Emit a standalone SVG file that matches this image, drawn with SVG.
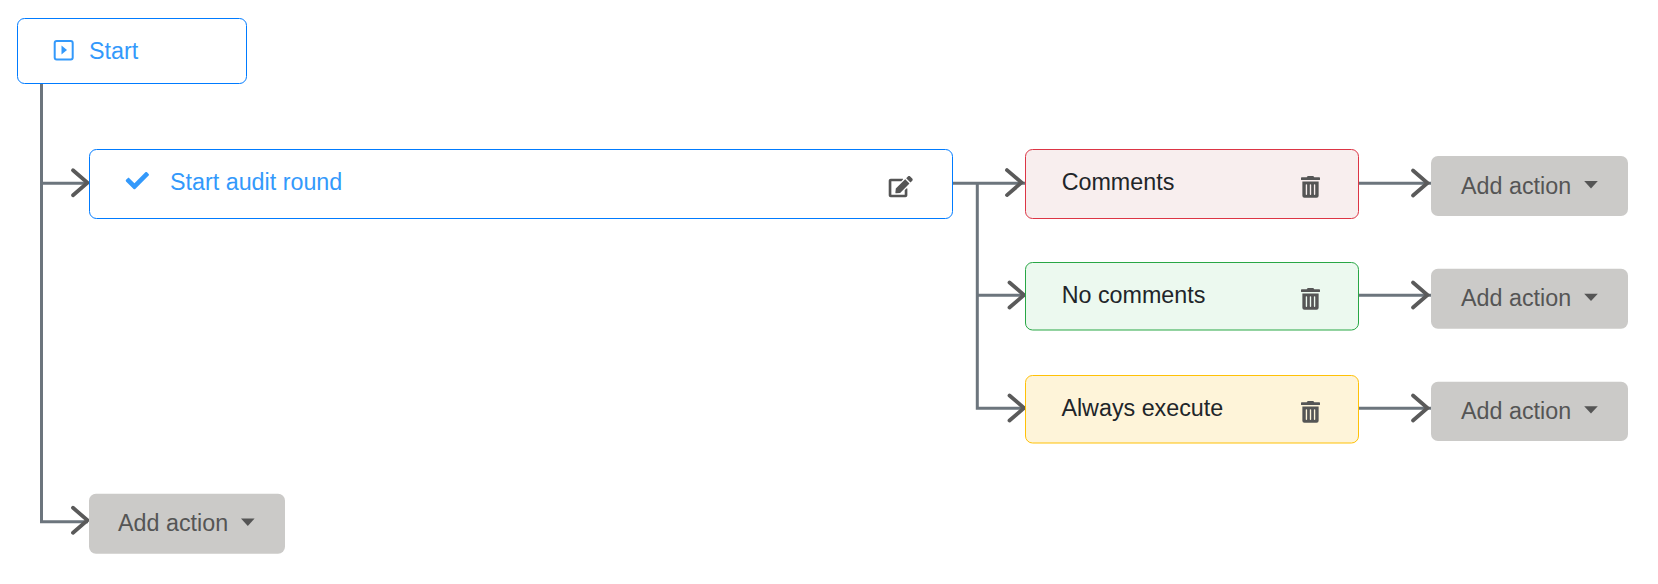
<svg xmlns="http://www.w3.org/2000/svg" width="1658" height="584" viewBox="0 0 1658 584">
<style>
text{font-family:"Liberation Sans",Arial,sans-serif;font-size:23.3px}
.b{stroke-width:1}
.blue{fill:#fff;stroke:#007bff}
.red{fill:#f8eeee;stroke:#dc3545}
.green{fill:#ecf9ef;stroke:#28a745}
.yellow{fill:#fef4d9;stroke:#ffc107}
.tb{fill:#3399fb}
.td{fill:#212529}
.ta{fill:#555}
.btn{fill:#cbcac8}
.ic{fill:#555}
.ln{fill:none;stroke:#6c757d;stroke-width:3}
.ah{fill:none;stroke:#5a5a5a;stroke-width:3.8;stroke-linecap:round;stroke-linejoin:miter}
</style>
<defs>
<path id="trash" class="ic" d="M32 464a48 48 0 0 0 48 48h288a48 48 0 0 0 48-48V128H32zm272-256a16 16 0 0 1 32 0v224a16 16 0 0 1-32 0zm-96 0a16 16 0 0 1 32 0v224a16 16 0 0 1-32 0zm-96 0a16 16 0 0 1 32 0v224a16 16 0 0 1-32 0zM432 32H312l-9.4-18.7A24 24 0 0 0 281.1 0H166.8a23.72 23.72 0 0 0-21.3 13.3L136 32H16A16 16 0 0 0 0 48v32a16 16 0 0 0 16 16h416a16 16 0 0 0 16-16V48a16 16 0 0 0-16-16z"/>
<path id="caret" class="ic" d="M0 0H13.6L6.8 7.4Z"/>
<path id="chev" class="ah" d="M-14.5 -12.5L0 0L-14.5 12.5"/>
</defs>
<g id="connectors">
<path class="ln" d="M41.5 83V521.7H88"/>
<path class="ln" d="M41.5 183.3H88"/>
<path class="ln" d="M953 183.3H1025M977.3 183.3V408.3H1025M977.3 295.3H1025"/>
<path class="ln" d="M1359 183.3H1431M1359 295.3H1431M1359 408.3H1431"/>
<use href="#chev" x="87.5" y="182.8"/>
<use href="#chev" x="87.5" y="520.3"/>
<use href="#chev" x="1021.5" y="182.6"/>
<use href="#chev" x="1024" y="295"/>
<use href="#chev" x="1024" y="408"/>
<use href="#chev" x="1427.5" y="183"/>
<use href="#chev" x="1427.5" y="295"/>
<use href="#chev" x="1427.5" y="408"/>
</g>
<g id="node-start">
<rect class="b blue" x="17.5" y="18.5" width="229" height="65" rx="7"/>
<rect x="54.7" y="41" width="18" height="18.4" rx="2" fill="none" stroke="#3399fb" stroke-width="2"/>
<path d="M61.5 45.5L67 50L61.5 54.5Z" fill="#3399fb"/>
<text class="tb" x="89" y="58.7">Start</text>
</g>
<g id="node-audit">
<rect class="b blue" x="89.5" y="149.5" width="863" height="69" rx="7"/>
<path fill="#3399fb" transform="translate(125.7 169) scale(.0455)" d="M173.898 439.404l-166.4-166.4c-9.997-9.997-9.997-26.206 0-36.204l36.203-36.204c9.997-9.998 26.207-9.998 36.204 0L192 312.69 432.095 72.596c9.997-9.997 26.207-9.997 36.204 0l36.203 36.204c9.997 9.997 9.997 26.206 0 36.204l-294.4 294.401c-9.998 9.997-26.207 9.997-36.204-.001z"/>
<text class="tb" x="170" y="189.7">Start audit round</text>
<path class="ic" transform="translate(888.7 176) scale(.0417)" d="M402.6 83.2l90.2 90.2c3.8 3.8 3.8 10 0 13.8L274.4 405.6l-92.8 10.3c-12.4 1.4-22.9-9.1-21.5-21.5l10.3-92.8L388.8 83.2c3.8-3.8 10-3.8 13.8 0zm162-22.9l-48.8-48.8c-15.2-15.2-39.9-15.2-55.2 0l-35.4 35.4c-3.8 3.8-3.8 10 0 13.8l90.2 90.2c3.8 3.8 10 3.8 13.8 0l35.4-35.4c15.2-15.3 15.2-40 0-55.2zM384 346.2V448H64V128h229.8c3.2 0 6.2-1.3 8.5-3.5l40-40c7.6-7.6 2.2-20.5-8.5-20.5H48C21.5 64 0 85.5 0 112v352c0 26.5 21.5 48 48 48h352c26.5 0 48-21.5 48-48V306.2c0-10.7-12.9-16-20.5-8.5l-40 40c-2.2 2.3-3.5 5.3-3.5 8.5z"/>
</g>
<g id="node-comments">
<rect class="b red" x="1025.5" y="149.5" width="333" height="69" rx="7"/>
<text class="td" x="1061.7" y="189.7">Comments</text>
<use href="#trash" transform="translate(1301 176) scale(.0424)"/>
</g>
<g id="node-no-comments">
<rect class="b green" x="1025.5" y="262.5" width="333" height="67.5" rx="7"/>
<text class="td" x="1061.7" y="302.7">No comments</text>
<use href="#trash" transform="translate(1301 288) scale(.0424)"/>
</g>
<g id="node-always">
<rect class="b yellow" x="1025.5" y="375.5" width="333" height="67.5" rx="7"/>
<text class="td" x="1061.4" y="415.7">Always execute</text>
<use href="#trash" transform="translate(1301 401) scale(.0424)"/>
</g>
<g id="add-1">
<rect class="btn" x="1431" y="156" width="197" height="60" rx="7"/>
<text class="ta" x="1461" y="193.7">Add action</text>
<use href="#caret" x="1584.2" y="181"/>
</g>
<g id="add-2">
<rect class="btn" x="1431" y="268.7" width="197" height="60" rx="7"/>
<text class="ta" x="1461" y="305.7">Add action</text>
<use href="#caret" x="1584.2" y="293.7"/>
</g>
<g id="add-3">
<rect class="btn" x="1431" y="381.7" width="197" height="59.3" rx="7"/>
<text class="ta" x="1461" y="418.7">Add action</text>
<use href="#caret" x="1584.2" y="406.2"/>
</g>
<g id="add-4">
<rect class="btn" x="89" y="493.7" width="196" height="60" rx="7"/>
<text class="ta" x="118" y="531.3">Add action</text>
<use href="#caret" x="241" y="518.5"/>
</g>
</svg>
